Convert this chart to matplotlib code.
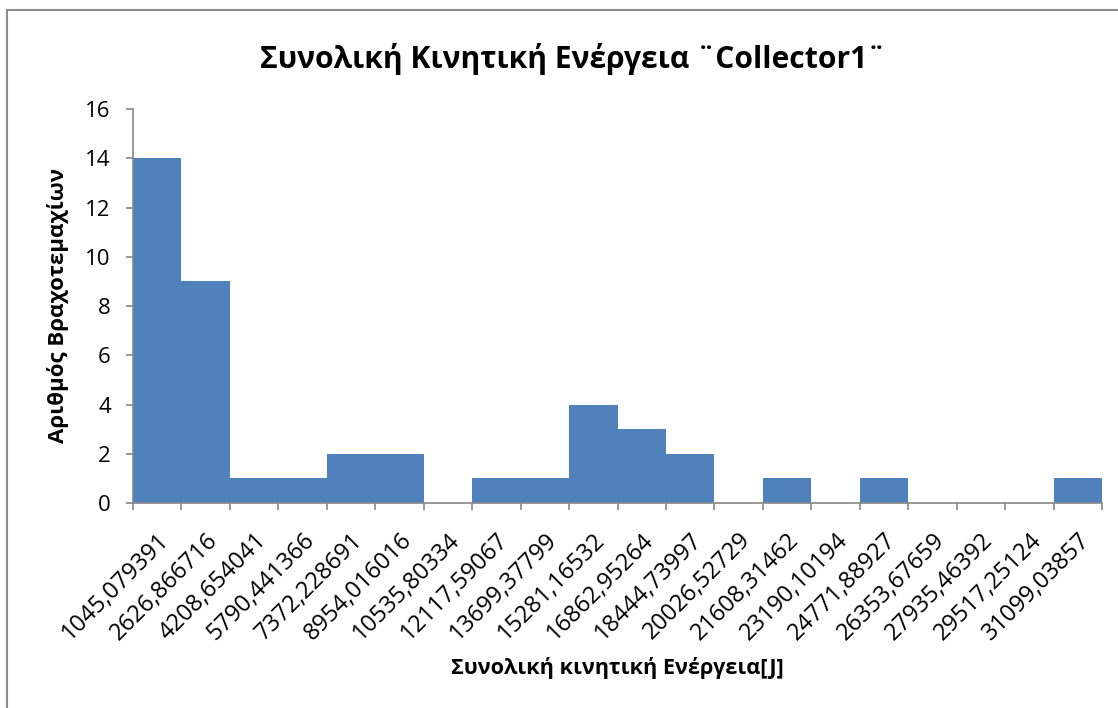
import numpy as np
import matplotlib.pyplot as plt
from matplotlib.patches import Rectangle

plt.rcParams['font.family'] = ['Open Sans', 'DejaVu Sans']

# Histogram bins (lower edges as shown by Excel) and counts
bin_labels = ['1045,079391', '2626,866716', '4208,654041', '5790,441366',
              '7372,228691', '8954,016016', '10535,80334', '12117,59067',
              '13699,37799', '15281,16532', '16862,95264', '18444,73997',
              '20026,52729', '21608,31462', '23190,10194', '24771,88927',
              '26353,67659', '27935,46392', '29517,25124', '31099,03857']
counts = [14, 9, 1, 1, 2, 2, 0, 1, 1, 4, 3, 2, 0, 1, 0, 1, 0, 0, 0, 1]

title = 'Συνολική Κινητική Ενέργεια ¨Collector1¨'
xlabel = 'Συνολική κινητική Ενέργεια[J]'
ylabel = 'Αριθμός Βραχοτεμαχίων'

fig = plt.figure(figsize=(11.18, 7.08), dpi=100)
ax = fig.add_axes([0.119, 0.2895, 0.8667, 0.5565])

# outer chart frame (Excel chart area border)
fig.patches.append(Rectangle((7 / 1118, -0.05), 1.2, 1 - 10 / 708 + 0.05,
                             transform=fig.transFigure, fill=False,
                             edgecolor='#8c8c8c', linewidth=1.5))

pos = np.arange(len(counts))
ax.bar(pos, counts, width=1.0, align='edge', color='#4F81BD', linewidth=0)

ax.set_xlim(0, len(counts))
ax.set_ylim(0, 16)
ax.set_yticks(np.arange(0, 17, 2))

# tick marks on bin edges, labels centred under each bar
ax.set_xticks(np.arange(len(counts) + 1))
ax.set_xticklabels([])
ax.set_xticks(pos + 0.5, minor=True)
ax.set_xticklabels(bin_labels, minor=True, rotation=45, ha='right',
                   rotation_mode='anchor', fontsize=17)
ax.tick_params(axis='x', which='minor', length=0, pad=18)
ax.tick_params(axis='both', which='major', direction='out', length=5,
               color='#868686', width=1.2, labelsize=16)
ax.tick_params(axis='y', pad=11)

for s in ['top', 'right']:
    ax.spines[s].set_visible(False)
for s in ['left', 'bottom']:
    ax.spines[s].set_color('#868686')
    ax.spines[s].set_linewidth(1.2)

fig.text(0.5125, 0.916, title, ha='center', va='center', fontsize=21.6,
         fontweight='bold')
fig.text(0.552, 0.057, xlabel, ha='center', va='center', fontsize=15.6,
         fontweight='bold')
fig.text(0.052, 0.569, ylabel, ha='center', va='center', fontsize=16,
         fontweight='bold', rotation=90)

fig.savefig('out.png', dpi=100)
